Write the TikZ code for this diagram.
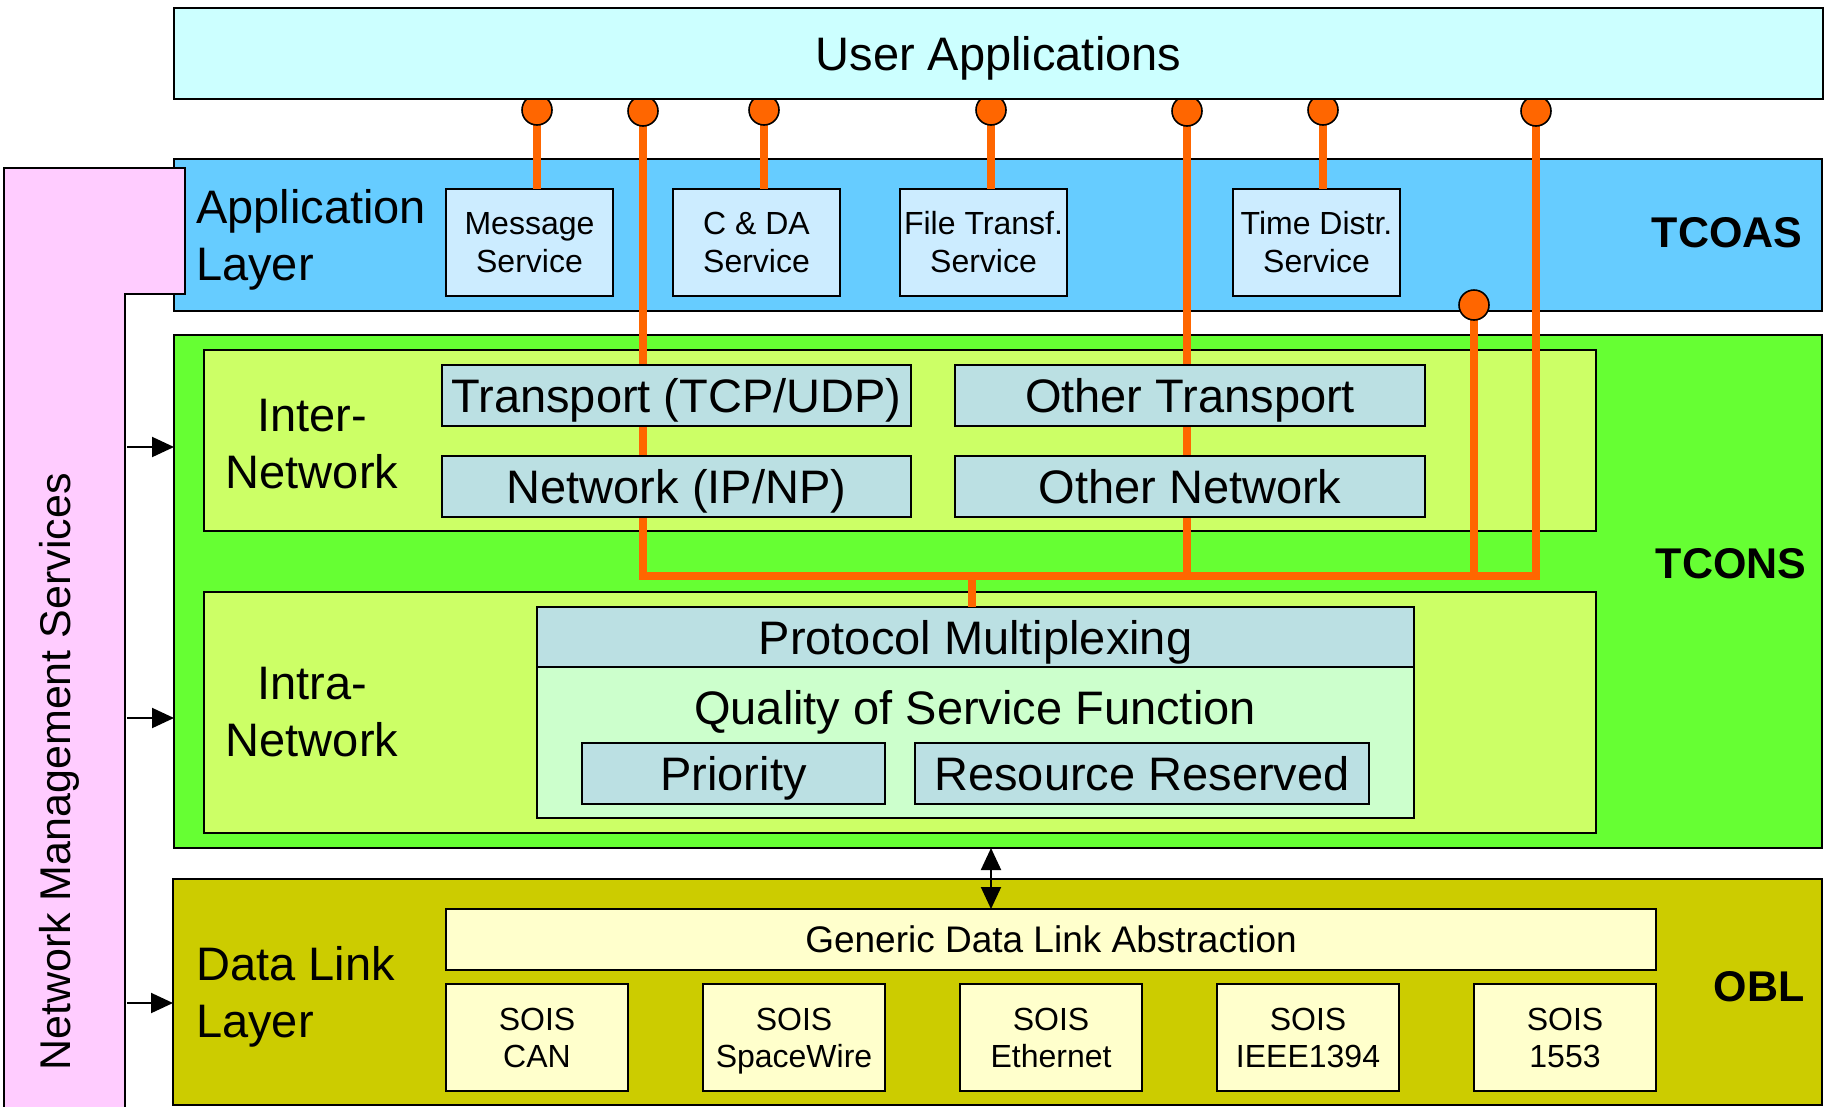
\documentclass[tikz,border=0pt]{standalone}
\usepackage{fontspec}
\setmainfont{Liberation Sans}
\usetikzlibrary{arrows.meta}

\definecolor{uacol}{HTML}{CCFFFF}
\definecolor{tcoascol}{HTML}{66CCFF}
\definecolor{svccol}{HTML}{CCECFF}
\definecolor{tconscol}{HTML}{66FF33}
\definecolor{netcol}{HTML}{CCFF66}
\definecolor{protocol}{HTML}{BBE0E3}
\definecolor{qoscol}{HTML}{CCFFCC}
\definecolor{oblcol}{HTML}{CCCC00}
\definecolor{dlcol}{HTML}{FFFFCC}
\definecolor{nmscol}{HTML}{FFCCFF}
\definecolor{wire}{HTML}{FF6600}

\newcommand\bigtxt{\fontsize{47}{57}\selectfont}
\newcommand\svctxt{\fontsize{32}{38}\selectfont}
\newcommand\soistxt{\fontsize{32}{37}\selectfont}
\newcommand\gdltxt{\fontsize{37}{44}\selectfont}
\newcommand\tagtxt{\bfseries\fontsize{43}{50}\selectfont}
\newcommand\nmstxt{\fontsize{43}{50}\selectfont}

\tikzset{headtip/.tip={Triangle[length=22pt, width=20pt]}}

\begin{document}
\begin{tikzpicture}[x=1pt, y=-1pt,
  panel/.style={draw=black, line width=1.8pt, inner sep=0pt, outer sep=0pt, anchor=north west},
  bigbox/.style={panel, font=\bigtxt, text height=34pt, text depth=0pt},
  svcbox/.style={panel, fill=svccol, minimum width=167pt, minimum height=107pt, align=center, font=\svctxt},
  soisbox/.style={panel, fill=dlcol, minimum width=182pt, minimum height=107pt, align=center, font=\soistxt},
  lbl/.style={inner sep=0pt, font=\bigtxt},
  tag/.style={inner sep=0pt, anchor=base, font=\tagtxt},
  wireline/.style={draw=wire, line width=8pt},
  dot/.style={circle, draw=black, line width=1.6pt, fill=wire, minimum size=30pt, inner sep=0pt},
  nmsarrow/.style={-headtip, line width=2pt},
]
\useasboundingbox (0,0) rectangle (1831,1106);
\fill[white] (0,0) rectangle (1831,1106);

% layer panels
\node[panel, fill=tcoascol, minimum width=1648pt, minimum height=152pt] (tcoas) at (174,159) {};
\node[panel, fill=tconscol, minimum width=1648pt, minimum height=513pt] (tcons) at (174,335) {};
\node[panel, fill=oblcol, minimum width=1649pt, minimum height=226pt] (obl) at (173,879) {};

% network sub-layers
\node[panel, fill=netcol, minimum width=1392pt, minimum height=181pt] (inter) at (204,350) {};
\node[panel, fill=netcol, minimum width=1392pt, minimum height=241pt] (intra) at (204,592) {};

% application services
\node[svcbox] (msg) at (446,189) {Message\\Service};
\node[svcbox] (cda) at (673,189) {C \& DA\\Service};
\node[svcbox] (ftr) at (900,189) {File Transf.\\Service};
\node[svcbox] (tds) at (1233,189) {Time Distr.\\Service};

% intra-network functions
\node[panel, fill=qoscol, minimum width=877pt, minimum height=151pt] (qos) at (537,667) {};
\node[bigbox, fill=protocol, minimum width=877pt, minimum height=60pt] (pm) at (537,607) {Protocol Multiplexing};
\node[lbl, anchor=base] (qostext) at (975,724) {Quality of Service Function};
\node[bigbox, fill=protocol, minimum width=303pt, minimum height=61pt] (prio) at (582,743) {Priority};
\node[bigbox, fill=protocol, minimum width=454pt, minimum height=61pt] (resv) at (915,743) {Resource Reserved};

% data link boxes
\node[panel, fill=dlcol, minimum width=1210pt, minimum height=61pt, font=\gdltxt, text height=26.5pt, text depth=0pt] (gdla) at (446,909) {Generic Data Link Abstraction};
\node[soisbox] (can) at (446,984) {SOIS\\CAN};
\node[soisbox] (spw) at (703,984) {SOIS\\\smash{SpaceWire}};
\node[soisbox] (eth) at (960,984) {SOIS\\Ethernet};
\node[soisbox] (ieee) at (1217,984) {SOIS\\IEEE1394};
\node[soisbox] (mil) at (1474,984) {SOIS\\1553};

% service access points
\coordinate (d1) at (537,110);
\coordinate (d2) at (643,111);
\coordinate (d3) at (764,110);
\coordinate (d4) at (991,110);
\coordinate (d5) at (1187,111);
\coordinate (d6) at (1323,110);
\coordinate (d7) at (1536,111);
\coordinate (d8) at (1474,305);
\coordinate (busL) at (643,576);
\coordinate (busR) at (1536,576);
\coordinate (tap) at (972,576);

% orange connections
\draw[wireline] (d1) -- (d1 |- msg.north);
\draw[wireline] (d3) -- (d3 |- cda.north);
\draw[wireline] (d4) -- (d4 |- ftr.north);
\draw[wireline] (d6) -- (d6 |- tds.north);
\draw[wireline] (d2) -- (busL) -- (busR) -- (d7);
\draw[wireline] (d5) -- (d5 |- busL);
\draw[wireline] (d8) -- (d8 |- busL);
\draw[wireline] (tap) -- (tap |- pm.north);

% transport and network boxes
\node[bigbox, fill=protocol, minimum width=469pt, minimum height=61pt] (tcp) at (442,365) {Transport (TCP/UDP)};
\node[bigbox, fill=protocol, minimum width=469pt, minimum height=61pt] (ip) at (442,456) {Network (IP/NP)};
\node[bigbox, fill=protocol, minimum width=470pt, minimum height=61pt] (otp) at (955,365) {Other Transport};
\node[bigbox, fill=protocol, minimum width=470pt, minimum height=61pt] (onw) at (955,456) {Other Network};

% access point dots over the lines
\foreach \p in {d1,d2,d3,d4,d5,d6,d7,d8}
  \node[dot] (\p dot) at (\p) {};

% user applications
\node[bigbox, fill=uacol, minimum width=1649pt, minimum height=91pt] (ua) at (174,8) {User Applications};

% network management column
\draw[fill=nmscol, line width=1.8pt] (4,1114) -- (4,168) -- (185,168) -- (185,294) -- (125,294) -- (125,1114);
\node[inner sep=0pt, rotate=90, anchor=base, font=\nmstxt] (nms) at (70,772) {Network Management Services};
\coordinate (n1) at (127,447);
\coordinate (n2) at (127,718);
\coordinate (n3) at (127,1003);
\draw[nmsarrow] (n1) -- (n1 -| tcons.west);
\draw[nmsarrow] (n2) -- (n2 -| tcons.west);
\draw[nmsarrow] (n3) -- (n3 -| obl.west);

% link between network and data link layers
\coordinate (dl) at (991,0);
\draw[headtip-headtip, line width=2pt] (dl |- tcons.south) -- (dl |- gdla.north);

% layer captions
\node[lbl, anchor=west, align=left] (applbl) at (196,239.6) {Application\\Layer};
\node[lbl, anchor=center, align=center] (interlbl) at (312,443.6) {Inter-\\Network};
\node[lbl, anchor=center, align=center] (intralbl) at (312,711.6) {Intra-\\Network};
\node[lbl, anchor=west, align=left] (dllbl) at (196,996.6) {Data Link\\Layer};

\node[tag] (tcoastag) at (1727,247) {TCOAS};
\node[tag] (tconstag) at (1731,578) {TCONS};
\node[tag] (obltag) at (1759,1001) {OBL};
\end{tikzpicture}
\end{document}
